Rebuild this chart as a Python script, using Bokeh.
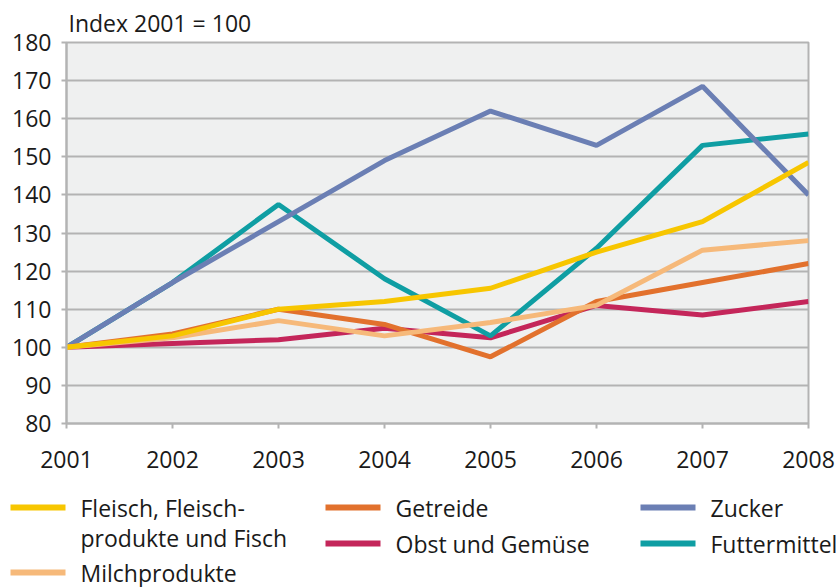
from bokeh.plotting import figure
from bokeh.layouts import column, row
from bokeh.models import FixedTicker, ColumnDataSource, Range1d
from bokeh.core.properties import value
from bokeh.embed import file_html
from bokeh.resources import INLINE

years = [2001, 2002, 2003, 2004, 2005, 2006, 2007, 2008]
fleisch = [100, 103, 110, 112, 115.5, 125, 133, 148.5]
milch = [100, 102.5, 107, 103, 106.5, 111, 125.5, 128]
getreide = [100, 103.5, 110, 106, 97.5, 112, 117, 122]
obst = [100, 101, 102, 105, 102.5, 111, 108.5, 112]
zucker = [100, 117, 133, 149, 162, 153, 168.5, 140]
futter = [100, 117, 137.5, 118, 103, 126, 153, 156]
y_ticks = [80, 90, 100, 110, 120, 130, 140, 150, 160, 170, 180]

series_keys = ["fleisch", "milch", "getreide", "obst", "zucker", "futter"]
series_labels = ["Fleisch, Fleisch-", "Milchprodukte", "Getreide", "Obst und Gemüse",
                 "Zucker", "Futtermittel"]
label_line2 = "produkte und Fisch"

FONT = "Open Sans"
GRID = "#b3b3b3"
TXT = "#1a1a1a"
W_TOTAL = 838
H_MAIN = 480
H_LEG = 107

colors = dict(fleisch="#f7c600", milch="#f6b97a", getreide="#e2712d",
              obst="#c4265a", zucker="#6b7fb4", futter="#0f9ea3")

p = figure(width=W_TOTAL, height=H_MAIN, output_backend="svg", toolbar_location=None,
           x_range=(2001, 2008), y_range=(80, 180),
           min_border_left=66, min_border_right=W_TOTAL - 808, min_border_top=42,
           min_border_bottom=57)
p.title.text = "Index 2001 = 100"
p.title.text_font = FONT
p.title.text_font_size = "23px"
p.title.text_font_style = "normal"
p.title.text_color = TXT
p.title.align = "left"
p.title.vertical_align = "top"
p.title.offset = 2
p.title.standoff = 4

p.background_fill_color = "#eff0f0"
p.border_fill_color = "white"
p.outline_line_color = GRID
p.outline_line_width = 2

p.xgrid.grid_line_color = None
p.ygrid.grid_line_color = GRID
p.ygrid.grid_line_width = 2
p.ygrid.ticker = FixedTicker(ticks=y_ticks)

for ax in (p.xaxis[0], p.yaxis[0]):
    ax.axis_line_color = GRID
    ax.axis_line_width = 2
    ax.major_tick_line_color = GRID
    ax.major_tick_line_width = 2
    ax.major_tick_in = 0
    ax.major_tick_out = 5
    ax.minor_tick_line_color = None
    ax.major_label_text_font = FONT
    ax.major_label_text_font_size = "23px"
    ax.major_label_text_color = TXT

p.xaxis.ticker = FixedTicker(ticks=years)
p.yaxis.ticker = FixedTicker(ticks=y_ticks)
p.xaxis.major_label_standoff = 22
p.yaxis.major_label_standoff = 10

src = ColumnDataSource(dict(x=years, fleisch=fleisch, milch=milch, getreide=getreide,
                            obst=obst, zucker=zucker, futter=futter))
W = 5
for key in ["obst", "futter", "zucker", "getreide", "milch", "fleisch"]:
    p.line("x", key, source=src, line_color=colors[key], line_width=W)

# legend panel (pixel-mapped ranges, y downward)
q = figure(width=W_TOTAL, height=H_LEG, output_backend="svg", toolbar_location=None,
           x_range=Range1d(0, W_TOTAL), y_range=Range1d(H_LEG, 0), min_border=0)
q.axis.visible = False
q.grid.grid_line_color = None
q.outline_line_color = None
q.background_fill_color = "white"
q.border_fill_color = "white"

col_x = [10, 10, 325, 325, 640, 640]
row_y = [27, 92, 27, 63, 27, 63]
SW = 55
GAP = 15
leg = ColumnDataSource(dict(
    x0=col_x, x1=[x + SW for x in col_x], y=row_y,
    tx=[x + SW + GAP for x in col_x], label=series_labels,
    color=[colors[k] for k in series_keys]))
q.segment(x0="x0", y0="y", x1="x1", y1="y", source=leg, line_color="color", line_width=6)
q.text(x="tx", y="y", text="label", source=leg, text_font=value(FONT),
       text_font_size="23px", text_baseline="middle", text_color=TXT)
q.text(x=[col_x[0] + SW + GAP], y=[57], text=[label_line2], text_font=value(FONT),
       text_font_size="23px", text_baseline="middle", text_color=TXT)

layout = column(row(p), row(q), spacing=0)
open("out.html", "w").write(file_html(layout, INLINE))
